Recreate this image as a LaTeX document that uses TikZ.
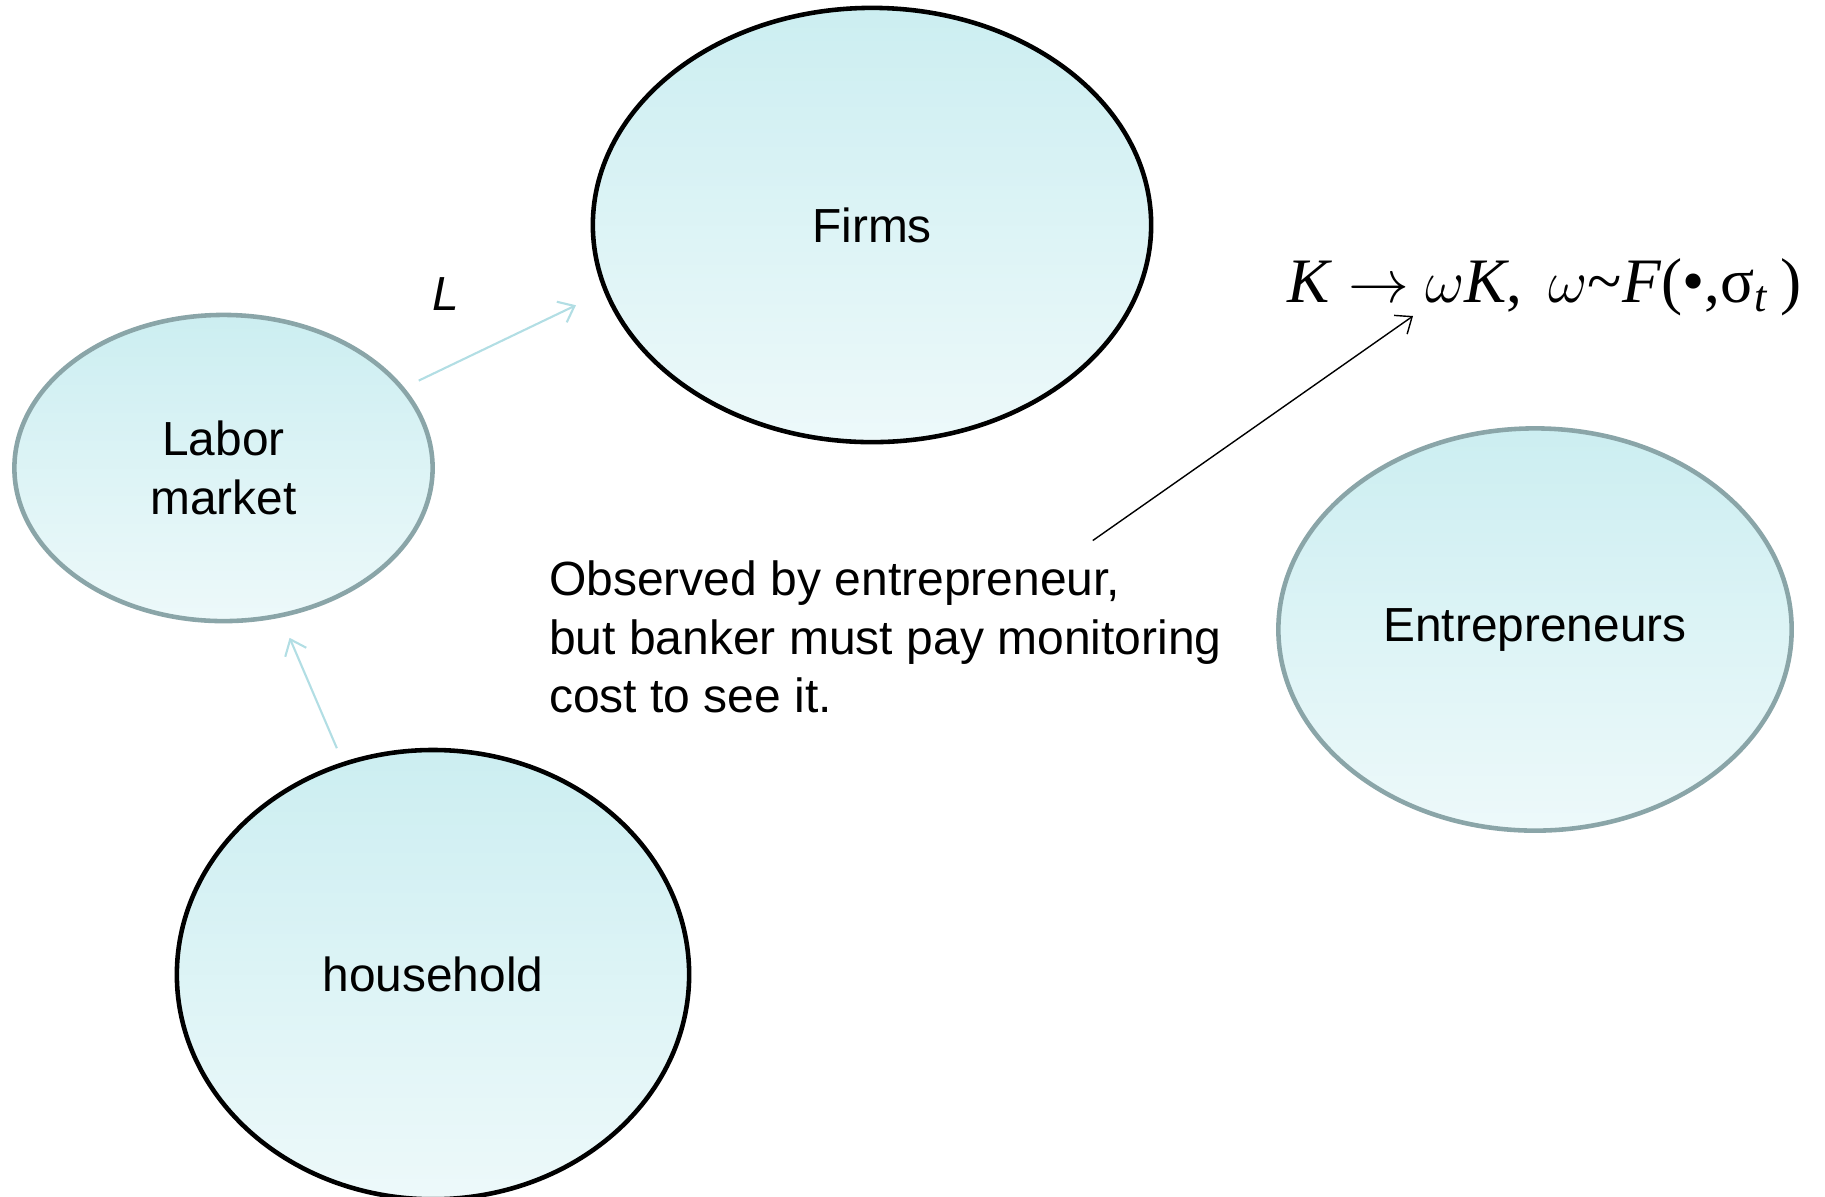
\documentclass[tikz,border=0pt]{standalone}
\usepackage{fontspec}
\setmainfont{Liberation Sans}
\newfontfamily\timesfont{Liberation Serif}
\usetikzlibrary{shapes.geometric,arrows.meta}

\definecolor{fillTop}{RGB}{204,238,241}
\definecolor{fillBot}{RGB}{237,249,250}
\definecolor{rimGray}{RGB}{138,165,168}
\definecolor{flowBlue}{RGB}{178,222,228}

\begin{document}
\begin{tikzpicture}[x=0.01cm, y=-0.01cm]
		\tikzset{sector/.style={ellipse, draw=black, line width=1.3pt, top color=fillTop, bottom color=fillBot, inner sep=0pt, align=center, font=\fontsize{13.6}{16.6}\selectfont}};
		\tikzset{flow/.style={draw=flowBlue, line width=0.6pt, -{Straight Barb[length=4pt, width=6.5pt]}}};
		\tikzset{ptr/.style={draw=black, line width=0.4pt, -{Straight Barb[length=4pt, width=6.5pt]}}};

		\useasboundingbox (0,0) rectangle (1825,1196);

		\node[sector, minimum width=5.58cm, minimum height=4.34cm] (firms) at (872,225) {Firms};
		\node[sector, draw=rimGray, minimum width=4.18cm, minimum height=3.06cm] (labor) at (223.5,468) {Labor\\market};
		\node[sector, minimum width=5.12cm, minimum height=4.49cm] (house) at (433,974.6) {household};
		\node[sector, draw=rimGray, minimum width=5.13cm, minimum height=4.02cm] (entre) at (1535,629.5) {Entrepreneurs};

		\node[font=\itshape\fontsize{13.6}{16.6}\selectfont, inner sep=0pt] (lbl) at (446,294) {L};
		\node[anchor=base west, inner sep=0pt, font=\timesfont\fontsize{18}{20}\selectfont] (law) at (1287,302)
			{\textit{K} $\rightarrow$ $\omega$\textit{K}, \,$\omega$\textasciitilde\textit{F}(•,σ\textsubscript{\textit{t}}\,)};
		\node[anchor=west, inner sep=0pt, align=left, font=\fontsize{13.65}{16.6}\selectfont] (note) at (548.5,637)
			{Observed by entrepreneur,\\but banker must pay monitoring\\cost to see it.};

		\coordinate (tail) at (1092.8,540.5);
		\coordinate (tip) at (1413,316);

		\draw[flow, shorten <=0.16cm, shorten >=0.31cm] (labor.24) to (firms.194);
		\draw[flow, shorten <=0.15cm, shorten >=0.22cm] (house.113) to (labor.-69);

		\draw[ptr] (tail) to (tip);
	\end{tikzpicture}
\end{document}
